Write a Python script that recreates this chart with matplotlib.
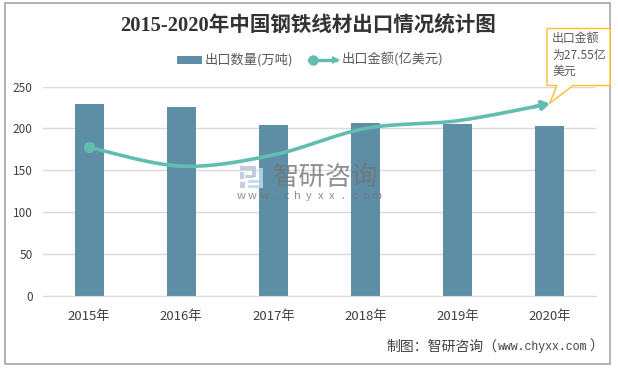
import numpy as np
import matplotlib
matplotlib.use('Agg')
import matplotlib.pyplot as plt
from matplotlib.patches import Polygon, Rectangle

W, H = 618, 368

years = ['2015年', '2016年', '2017年', '2018年', '2019年', '2020年']
quantity = [229, 226, 204, 206, 205, 203]
amount = [21.3, 18.6, 20.2, 24.0, 25.1, 27.55]

CJK = ['Noto Sans CJK SC', 'DejaVu Sans']
TEXT = '#595959'
TEAL = '#62bdb1'
BAR = '#5d8ea6'
GOLD = '#fbc02d'
MARK = '#747474'


def smooth(x, y, n=30):
    # bezier smoothing through the points, same look as an Excel smoothed line
    x = np.array(x, dtype=float)
    y = np.array(y, dtype=float)
    xs, ys = [], []
    for i in range(len(x) - 1):
        i0 = max(i - 1, 0)
        i3 = min(i + 2, len(x) - 1)
        c1x = x[i] + (x[i + 1] - x[i0]) / 6
        c1y = y[i] + (y[i + 1] - y[i0]) / 6
        c2x = x[i + 1] - (x[i3] - x[i]) / 6
        c2y = y[i + 1] - (y[i3] - y[i]) / 6
        t = np.linspace(0, 1, n)
        xs.extend((1-t)**3*x[i] + 3*(1-t)**2*t*c1x + 3*(1-t)*t**2*c2x + t**3*x[i+1])
        ys.extend((1-t)**3*y[i] + 3*(1-t)**2*t*c1y + 3*(1-t)*t**2*c2y + t**3*y[i+1])
    return np.array(xs), np.array(ys)


def fx(px):
    return px / W


def fy(py):
    return 1 - py / H


plt.rcParams['font.family'] = CJK

fig = plt.figure(figsize=(W / 100, H / 100), dpi=100, facecolor='white')

# outer frame
fig.add_artist(Rectangle((fx(5), fy(364)), 605 / W, 361.5 / H, transform=fig.transFigure,
                         fill=False, edgecolor='#a6a6a6', linewidth=1.2))

ax = fig.add_axes([fx(43), fy(296), 553 / W, 209.5 / H])
pos = np.arange(len(years))
ax.set_axisbelow(True)
ax.grid(axis='y', color='#d9d9d9', linewidth=1)
ax.bar(pos, quantity, width=0.315, color=BAR, label='出口数量(万吨)')
ax.set_xlim(-0.5, 5.5)
ax.set_ylim(0, 250)
ax.set_yticks([0, 50, 100, 150, 200, 250])
ax.set_xticks(pos)
ax.set_xticklabels(years)
ax.tick_params(axis='both', length=0, labelcolor='#404040')
ax.tick_params(axis='x', pad=10, labelsize=9.5)
ax.tick_params(axis='y', pad=7.5, labelsize=8.5)
for s in ['top', 'left', 'right']:
    ax.spines[s].set_visible(False)
ax.spines['bottom'].set_color('#d9d9d9')

# amount runs on a hidden second axis
ax2 = ax.twinx()
ax2.set_ylim(0, 30)
ax2.axis('off')
cx, cy = smooth(pos, amount)
ax2.plot(cx[:-4], cy[:-4], color=TEAL, linewidth=2.6, solid_capstyle='butt', zorder=4)
ax2.annotate('', xy=(cx[-1], cy[-1]), xytext=(cx[-8], cy[-8]),
             arrowprops=dict(arrowstyle='-|>,head_length=0.45,head_width=0.28', color=TEAL,
                             linewidth=2.6, shrinkA=0, shrinkB=0), zorder=4)
ax2.plot(pos[0], amount[0], 'o', color=TEAL, markersize=7, zorder=5)

fig.text(fx(308), fy(26), '2015-2020年中国钢铁线材出口情况统计图', ha='center', va='center',
         fontsize=14.8, fontweight='bold', color='#333333',
         family=['Liberation Serif', 'Noto Sans CJK SC'])

# legend
fig.add_artist(Rectangle((fx(177), fy(64)), 25 / W, 8 / H, transform=fig.transFigure,
                         facecolor=BAR, edgecolor='none'))
fig.text(fx(205), fy(59.5), '出口数量(万吨)', va='center', fontsize=9.5, color=TEXT)
fig.add_artist(plt.Line2D([fx(309), fx(336)], [fy(60), fy(60)], color=TEAL, linewidth=2.4,
                          transform=fig.transFigure))
fig.add_artist(plt.Line2D([fx(313)], [fy(60)], marker='o', markersize=6.5, color=TEAL,
                          transform=fig.transFigure))
fig.add_artist(Polygon([(fx(340), fy(60)), (fx(332), fy(56)), (fx(332), fy(64))], closed=True,
                       transform=fig.transFigure, facecolor=TEAL, edgecolor='none'))
fig.text(fx(342), fy(59.5), '出口金额(亿美元)', va='center', fontsize=9.5, color=TEXT)

# callout on the 2020 point
fig.add_artist(Polygon([(fx(547), fy(28.5)), (fx(610), fy(28.5)), (fx(610), fy(85.5)), (fx(573), fy(85.5)),
                        (fx(549.5), fy(103.5)), (fx(557), fy(85.5)), (fx(547), fy(85.5))], closed=True,
                       transform=fig.transFigure, facecolor='white', edgecolor=GOLD, linewidth=1, zorder=6))
for ty, line in zip([38.5, 55, 71], ['出口金额', '为27.55亿', '美元']):
    fig.text(fx(552), fy(ty), line, va='center', fontsize=8.6, color=TEXT, zorder=7)

# watermark
for x0, y0, w, h, c in [(240, 166, 16, 4, '#b9c5dc'), (252, 170, 4, 7, '#b9c5dc'), (245, 175, 9, 3, '#b9c5dc'),
                        (240, 172, 4, 7, '#b9c5dc'), (240, 182, 5, 6, '#b9c5dc'),
                        (248, 180, 11, 3, '#bcd9ee'), (248, 185, 15, 3, '#bcd9ee'), (259, 168, 4, 17, '#bcd9ee')]:
    fig.add_artist(Rectangle((fx(x0), fy(y0 + h)), w / W, h / H, transform=fig.transFigure,
                             facecolor=c, edgecolor='none', alpha=0.85, zorder=8))
fig.text(fx(326), fy(177.5), '智研咨询', ha='center', va='center', fontsize=19, color=MARK,
         alpha=0.8, zorder=8)
for wx, ch in zip(np.linspace(241, 377, 13), 'www.chyxx.com'):
    fig.text(fx(wx), fy(196), ch, ha='center', va='center', fontsize=8, color=MARK, alpha=0.8, zorder=8)

# source line, latin part is monospaced in the original
fig.text(fx(386), fy(347), '制图：智研咨询（', va='center', fontsize=10, color='#404040')
fig.text(fx(498), fy(347), 'www.chyxx.com', va='center', fontsize=8.3, color='#404040', family='Liberation Mono')
fig.text(fx(589), fy(347), '）', va='center', fontsize=10, color='#404040')

fig.savefig('out.png', dpi=100)
